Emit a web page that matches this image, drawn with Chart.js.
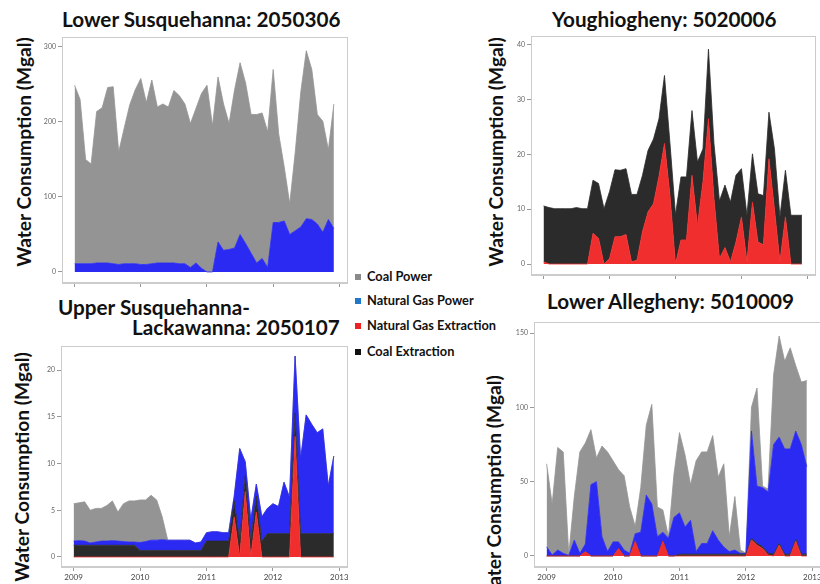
<!DOCTYPE html>
<html>
<head>
<meta charset="utf-8">
<script src="https://cdn.jsdelivr.net/npm/chart.js@4.4.0/dist/chart.umd.min.js"></script>
<style>
  body { margin: 0; background: #fff; width: 820px; height: 584px; overflow: hidden; position: relative; font-family: Lato, "Open Sans", sans-serif; }
  canvas { position: absolute; }
  .title { position: absolute; font-weight: 700; font-size: 20.7px; color: #111; white-space: nowrap; line-height: 1; }
  .ytitle { position: absolute; font-weight: 700; font-size: 19.2px; color: #111; white-space: nowrap; line-height: 1; transform: translate(-50%, -50%) rotate(-90deg); }
  .leg { position: absolute; left: 355px; font-weight: 700; font-size: 12.8px; color: #111; white-space: nowrap; line-height: 1; }
  .leg i { display: inline-block; width: 6px; height: 6px; margin-right: 6px; vertical-align: 1px; }
</style>
</head>
<body>

<div class="title" style="left:62px;top:9px">Lower Susquehanna: 2050306</div>
<div class="title" style="left:552px;top:9px">Youghiogheny: 5020006</div>
<div class="title" style="left:58px;top:297px">Upper Susquehanna-</div>
<div class="title" style="left:132px;top:317px">Lackawanna: 2050107</div>
<div class="title" style="left:547px;top:291px">Lower Allegheny: 5010009</div>

<div class="ytitle" style="left:24px;top:152px">Water Consumption (Mgal)</div>
<div class="ytitle" style="left:496px;top:152px">Water Consumption (Mgal)</div>
<div class="ytitle" style="left:22px;top:467px">Water Consumption (Mgal)</div>
<div class="ytitle" style="left:494px;top:490px">Water Consumption (Mgal)</div>

<div class="leg" style="top:270px"><i style="background:#8a8a8a"></i>Coal Power</div>
<div class="leg" style="top:294px"><i style="background:#1f78c8"></i>Natural Gas Power</div>
<div class="leg" style="top:319px"><i style="background:#ee2222"></i>Natural Gas Extraction</div>
<div class="leg" style="top:345px"><i style="background:#111"></i>Coal Extraction</div>

<canvas id="c1"></canvas>
<canvas id="c2"></canvas>
<canvas id="c3"></canvas>
<canvas id="c4"></canvas>

<script>
// monthly points, Jan 2009 - Dec 2012
const years = [2009, 2010, 2011, 2012];
const monthNums = [1, 2, 3, 4, 5, 6, 7, 8, 9, 10, 11, 12];
const t = [];
years.forEach(y => monthNums.forEach(m => t.push(y + (m - 1) / 12)));

const seriesNames = ['Natural Gas Extraction', 'Coal Extraction', 'Natural Gas Power', 'Coal Power'];

// Lower Susquehanna: 2050306
const p1GasPower = [11, 11, 11, 11, 12, 12, 12, 11, 10, 11, 11, 11, 10, 10, 11, 12, 12, 12, 12, 11, 11, 6, 12, 5,
  0, 0, 40, 29, 30, 32, 50, 38, 25, 12, 18, 6, 66, 66, 68, 50, 55, 60, 71, 70, 64, 53, 70, 58];
const p1CoalPower = [238, 219, 139, 133, 202, 207, 234, 236, 150, 181, 212, 232, 248, 216, 245, 208, 212, 208, 230, 224, 213, 192, 206, 233,
  249, 195, 220, 195, 168, 211, 229, 214, 185, 198, 194, 181, 204, 118, 72, 41, 105, 180, 224, 200, 146, 148, 93, 166];

// Youghiogheny: 5020006
const p2GasExtraction = [0.4, 0, 0, 0, 0, 0, 0, 0, 0, 5.6, 4.7, 0, 1, 5, 5, 5.4, 0.4, 0.7, 5.9, 9.5, 11, 16, 22, 12.5,
  0, 4.4, 4.4, 16.2, 7, 15, 26.5, 12, 1, 3, 0.4, 4, 8.6, 0.4, 11.3, 4, 3.5, 19.2, 10, 0.4, 8.6, 0, 0, 0];
const p2CoalExtraction = [10.2, 10.3, 10.1, 10.1, 10.1, 10.1, 10.3, 10.1, 10.1, 9.7, 10, 10.1, 12.2, 12.2, 12.1, 12, 12.3, 12, 10.3, 11.2, 11.8, 10.5, 12.4, 9.5,
  9, 11.5, 11.5, 11.8, 11.6, 6, 12.7, 10, 10.5, 11.4, 10.9, 12.2, 8.8, 8.5, 8.8, 8.8, 9, 8.5, 11, 8.2, 8.5, 8.9, 8.9, 8.9];

// Upper Susquehanna-Lackawanna: 2050107
const p3GasExtraction = [0, 0, 0, 0, 0, 0, 0, 0, 0, 0, 0, 0, 0, 0, 0, 0, 0, 0, 0, 0, 0, 0, 0, 0,
  0, 0, 0, 0, 0, 4.3, 0, 7, 0, 4.8, 0, 0, 0, 0, 0, 0, 12.9, 0, 0, 0, 0, 0, 0, 0];
const p3CoalExtraction = [1.25, 1.25, 1.25, 1.25, 1.25, 1.25, 1.25, 1.25, 1.25, 1.25, 1.25, 1.25, 0.7, 0.7, 0.7, 0.7, 0.7, 0.7, 0.7, 0.7, 0.7, 0.7, 0.7, 0.7,
  1.7, 1.7, 1.7, 1.7, 1.7, 1.7, 1.7, 1.7, 1.7, 1.7, 1.7, 2.5, 2.5, 2.5, 2.5, 2.5, 2.5, 2.5, 2.5, 2.5, 2.5, 2.5, 2.5, 2.5];
const p3GasPower = [0.45, 0.5, 0.45, 0.25, 0.35, 0.45, 0.45, 0.5, 0.45, 0.4, 0.35, 0.35, 0.85, 0.95, 1.1, 1.1, 1.15, 1.1, 1.1, 1.1, 1.1, 1.1, 0.8, 0.9,
  0.9, 1.0, 1.0, 0.9, 0.9, 0.5, 9.9, 1.5, 2.3, 1.3, 2.6, 2.7, 3.2, 2.9, 5.5, 3.9, 6.1, 8, 12.7, 11.7, 10.8, 11.2, 5.1, 8.3];
const p3CoalPower = [4.0, 4.05, 4.2, 3.5, 3.6, 3.5, 3.8, 4.25, 3.1, 4.05, 4.4, 4.4, 4.55, 4.45, 4.8, 4.3, 2.45, 0, 0, 0, 0, 0, 0, 0,
  0, 0, 0, 0, 0, 0, 0, 0, 0, 0, 0, 0, 0, 0, 0, 0, 0, 0, 0, 0, 0, 0, 0, 0];

// Lower Allegheny: 5010009
const p4GasExtraction = [0, 0, 0, 0, 0, 0, 0, 3, 0, 0, 0, 0, 0, 5, 0, 0, 10, 0, 0, 0, 0, 10, 0, 0,
  0, 0, 0, 0, 0, 0, 0, 0, 0, 0, 0, 0, 0, 10.7, 7.3, 5, 0.7, 0, 7.3, 0, 0, 10, 0, 0];
const p4CoalExtraction = [0, 0, 0, 0, 0, 0, 0, 0, 0, 0, 0, 0, 0, 0, 0, 0, 0, 0, 0, 0, 0, 0, 0, 0,
  1.2, 1.2, 1.2, 1.2, 1.2, 1.2, 1.2, 1.2, 1.2, 1.2, 1.2, 1.2, 1.2, 1.2, 1.2, 1.2, 1.2, 1.2, 1.2, 1.2, 1.2, 1.2, 1.2, 1.2];
const p4GasPower = [6.2, 0.7, 4, 1.8, 0.4, 10.7, 1.8, 5, 48, 50, 13, 3, 9.5, 4.5, 4, 1.8, 5, 16, 41, 35, 13, 6, 12, 26,
  27.8, 18.3, 22.8, 1.8, 7.2, 7.2, 15.8, 9.5, 4.8, 1.8, 2.8, 0.6, 0.6, 72.1, 38.5, 39.8, 41.1, 73.8, 71.5, 70.8, 70.8, 72.8, 73.8, 58.8];
const p4CoalPower = [55.8, 34.3, 69, 68.2, 0.6, 29.3, 68.2, 68, 37, 16, 61, 67, 54.5, 48.5, 50, 31.2, 5, 30, 47, 67, 20, 15, 1, 29,
  54, 48.5, 24, 61, 61.6, 61.6, 64, 42.3, 56, 10, 36, 2.2, 0.2, 16, 66, 1, 2, 47, 68, 59, 68, 44, 42, 58];

const fillColors = {
  'Natural Gas Extraction': '#f02e2e',
  'Coal Extraction': '#2b2b2b',
  'Natural Gas Power': '#2a2af2',
  'Coal Power': '#949494'
};

const Y_W = 32, X_H = 22;

// light grey box around the panel
const frame = {
  id: 'frame',
  afterDraw(chart) {
    const a = chart.chartArea, ctx = chart.ctx;
    ctx.save();
    ctx.strokeStyle = '#cccccc';
    ctx.lineWidth = 1;
    ctx.strokeRect(a.left + 0.5, a.top + 0.5, a.right - a.left - 1, a.bottom - a.top - 1);
    ctx.restore();
  }
};

function pts(vals) {
  return vals.map((v, i) => ({ x: t[i], y: v }));
}

function makeChart(id, box, yMin, yMax, yStep, showX, sets) {
  const cv = document.getElementById(id);
  cv.width = box[2] - box[0] + Y_W;
  cv.height = box[3] - box[1] + X_H;
  cv.style.left = (box[0] - Y_W) + 'px';
  cv.style.top = box[1] + 'px';

  const datasets = sets.map((s, k) => ({
    label: s[0],
    data: pts(s[1]),
    backgroundColor: fillColors[s[0]],
    borderColor: fillColors[s[0]],
    borderWidth: 0.8,
    pointRadius: 0,
    tension: 0,
    fill: k === 0 ? 'origin' : '-1'
  }));

  return new Chart(cv.getContext('2d'), {
    type: 'line',
    data: { datasets: datasets },
    options: {
      responsive: false,
      animation: false,
      layout: { padding: 0 },
      plugins: { legend: { display: false }, tooltip: { enabled: false } },
      scales: {
        x: {
          type: 'linear',
          min: 2008.81,
          max: 2013.13,
          ticks: {
            stepSize: 1, includeBounds: false, display: showX, maxRotation: 0, padding: 2,
            font: { family: 'Lato, sans-serif', size: 8 }, color: '#444',
            callback: v => String(Math.round(v))
          },
          grid: { drawOnChartArea: false, drawTicks: true, tickLength: 4, color: '#999' },
          border: { display: true, color: '#cccccc' },
          afterFit: s => { s.height = X_H; s.paddingLeft = 0; s.paddingRight = 0; }
        },
        y: {
          stacked: true,
          min: yMin,
          max: yMax,
          ticks: {
            stepSize: yStep, includeBounds: false, padding: 2,
            font: { family: 'Lato, sans-serif', size: 7 }, color: '#666'
          },
          grid: { drawOnChartArea: false, drawTicks: true, tickLength: 4, color: '#999' },
          border: { display: true, color: '#cccccc' },
          afterFit: s => { s.width = Y_W; s.paddingTop = 0; s.paddingBottom = 0; }
        }
      }
    },
    plugins: [frame]
  });
}

makeChart('c1', [62, 37, 348, 283], -14.7, 313.3, 100, false, [
  ['Natural Gas Power', p1GasPower],
  ['Coal Power', p1CoalPower]
]);

makeChart('c2', [531, 36, 816, 275], -2.0, 41.6, 10, false, [
  ['Natural Gas Extraction', p2GasExtraction],
  ['Coal Extraction', p2CoalExtraction]
]);

makeChart('c3', [61, 346, 348, 567], -1.07, 22.57, 5, true, [
  ['Natural Gas Extraction', p3GasExtraction],
  ['Coal Extraction', p3CoalExtraction],
  ['Natural Gas Power', p3GasPower],
  ['Coal Power', p3CoalPower]
]);

makeChart('c4', [534, 322, 821, 567], -7.4, 157.4, 50, true, [
  ['Natural Gas Extraction', p4GasExtraction],
  ['Coal Extraction', p4CoalExtraction],
  ['Natural Gas Power', p4GasPower],
  ['Coal Power', p4CoalPower]
]);
</script>
</body>
</html>
